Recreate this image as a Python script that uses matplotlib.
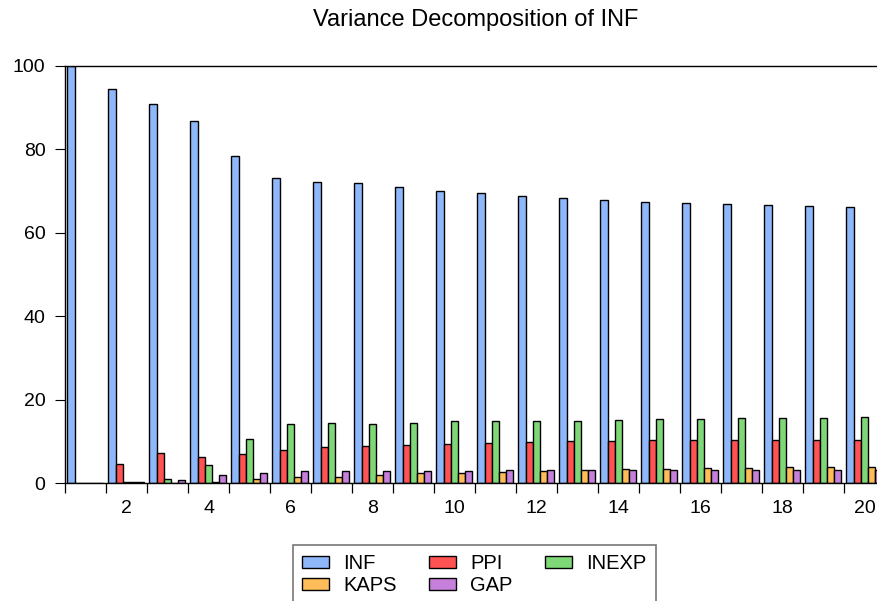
import numpy as np
import matplotlib
matplotlib.use("Agg")
import matplotlib.pyplot as plt

plt.rcParams['font.family'] = ['Liberation Sans', 'DejaVu Sans']

periods = np.arange(1, 21)

inf_share = [100.0, 94.4, 90.8, 86.8, 78.3, 73.1, 72.2, 71.9, 71.0, 70.1,
             69.5, 68.9, 68.4, 67.9, 67.4, 67.1, 66.8, 66.6, 66.4, 66.3]
ppi_share = [0.0, 4.5, 7.1, 6.3, 7.0, 7.9, 8.6, 8.9, 9.1, 9.3,
             9.5, 9.8, 10.0, 10.1, 10.2, 10.2, 10.2, 10.2, 10.3, 10.3]
inexp_share = [0.0, 0.2, 0.9, 4.3, 10.6, 14.1, 14.3, 14.1, 14.4, 14.8,
               14.9, 14.9, 14.9, 15.0, 15.3, 15.4, 15.5, 15.5, 15.7, 15.8]
kaps_share = [0.0, 0.2, 0.1, 0.2, 1.0, 1.5, 1.5, 1.9, 2.3, 2.5,
              2.7, 2.9, 3.0, 3.3, 3.4, 3.5, 3.7, 3.8, 3.8, 3.8]
gap_share = [0.0, 0.3, 0.7, 1.8, 2.3, 2.9, 2.8, 2.8, 2.8, 2.9,
             3.0, 3.0, 3.0, 3.0, 3.0, 3.0, 3.0, 3.0, 3.0, 3.0]

series = [("INF", inf_share, "#8fb8fa"),
          ("PPI", ppi_share, "#ff5252"),
          ("INEXP", inexp_share, "#7fd877"),
          ("KAPS", kaps_share, "#ffbd5a"),
          ("GAP", gap_share, "#c77fdc")]

W, H = 877, 601
fig = plt.figure(figsize=(W / 100, H / 100), dpi=100)
ax = fig.add_axes([65 / W, (H - 483) / H, (885 - 65) / W, (483 - 66) / H])

bw = 0.175
handles = []
for i, (name, vals, col) in enumerate(series):
    x = periods - 0.5 + 0.06 + i * bw
    h = ax.bar(x, vals, width=bw, align='edge', color=col,
               edgecolor='black', linewidth=1.0, label=name)
    handles.append(h)

ax.set_xlim(0.5, 20.5)
ax.set_ylim(0, 100)

ax.set_yticks([0, 20, 40, 60, 80, 100])
ax.tick_params(axis='y', direction='out', length=7, width=0.8,
               labelsize=14, pad=7)

ax.set_xticks(np.arange(2, 21, 2))
ax.set_xticklabels([str(p) for p in range(2, 21, 2)])
ax.set_xticks(np.arange(0.5, 20.6, 1), minor=True)
ax.tick_params(axis='x', which='major', length=0, labelsize=14, pad=12)
ax.tick_params(axis='x', which='minor', direction='out', length=7, width=0.9)

for s in ['left', 'bottom', 'top']:
    ax.spines[s].set_linewidth(1.0)
ax.spines['right'].set_visible(False)

fig.text(476 / W, 1 - 20 / H, "Variance Decomposition of INF",
         ha='center', va='center', fontsize=17)

# legend filled row by row: INF PPI INEXP / KAPS GAP
order = [0, 3, 1, 4, 2]
leg = fig.legend([handles[k] for k in order], [series[k][0] for k in order],
                 loc='upper left', bbox_to_anchor=(293 / W, 1 - 545 / H),
                 ncol=3, fontsize=14.5, frameon=True, fancybox=False,
                 handlelength=1.35, handleheight=0.55, handletextpad=0.7,
                 columnspacing=1.6, labelspacing=0.15, borderpad=0.45,
                 borderaxespad=0)
leg.get_frame().set_edgecolor('#555555')
leg.get_frame().set_linewidth(1.2)

fig.savefig("out.png", dpi=100)
